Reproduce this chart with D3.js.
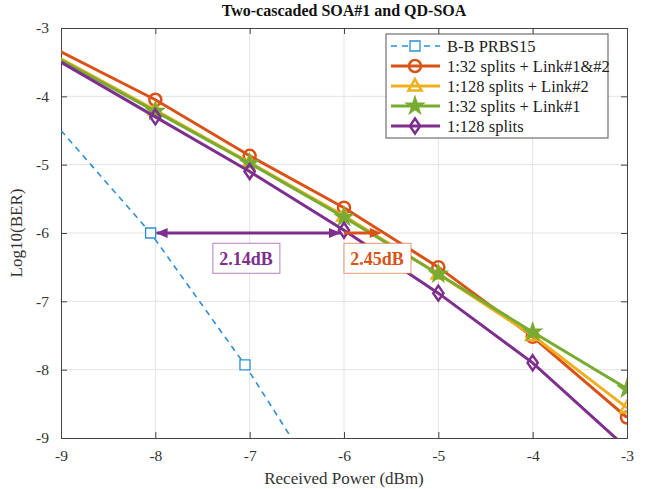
<!DOCTYPE html>
<html>
<head>
<meta charset="utf-8">
<script src="https://cdn.jsdelivr.net/npm/d3@7"></script>
<style>
  body { margin: 0; background: #fff; }
  text { font-family: "Liberation Serif", "Times New Roman", serif; }
</style>
</head>
<body>
<div id="chart"></div>
<script>
// data
const xTicks = [-9, -8, -7, -6, -5, -4, -3];
const yTicks = [-3, -4, -5, -6, -7, -8, -9];

const bbX = [-9, -8.05, -7.05, -6.05];
const bbY = [-4.5, -6.0, -7.93, -10.1];

const powerX = [-9, -8, -7, -6, -5, -4, -3];
const split32Link12 = [-3.35, -4.05, -4.87, -5.63, -6.5, -7.52, -8.7];
const split128Link2 = [-3.45, -4.2, -4.97, -5.75, -6.6, -7.5, -8.56];
const split32Link1 = [-3.47, -4.22, -4.98, -5.77, -6.6, -7.45, -8.28];
const split128 = [-3.5, -4.3, -5.1, -5.96, -6.88, -7.9, -9.15];

const seriesNames = ["B-B PRBS15", "1:32 splits + Link#1&#2", "1:128 splits + Link#2", "1:32 splits + Link#1", "1:128 splits"];
const seriesColors = ["#2b8fd8", "#D95319", "#EDB120", "#77AC30", "#7E2F8E"];
const seriesMarkers = ["square", "circle", "triangle", "star", "diamond"];

// penalty arrows at BER 1e-6
const arrowLevel = -6;
const arrowBB = -8.05, arrowPurple = -6.0, arrowOrange = -5.6;
const labels = [
  {text: "2.14dB", x: -7.04, y: -6.37, color: "#7E2F8E"},
  {text: "2.45dB", x: -5.65, y: -6.37, color: "#D95319"}
];

const margin = {top: 28, right: 22, bottom: 51, left: 61},
  width = 649 - margin.left - margin.right,
  height = 489 - margin.top - margin.bottom;

const svg = d3.select("#chart").append("svg")
  .attr("width", 649).attr("height", 489)
  .append("g")
  .attr("transform", `translate(${margin.left},${margin.top})`);

const x = d3.scaleLinear().domain([-9, -3]).range([0, width]);
const y = d3.scaleLinear().domain([-9, -3]).range([height, 0]);

// grid
svg.append("g").selectAll("line").data(xTicks.slice(1, -1)).join("line")
  .attr("x1", d => x(d)).attr("x2", d => x(d)).attr("y1", 0).attr("y2", height)
  .attr("stroke", "#e3e3e3");
svg.append("g").selectAll("line").data(yTicks.slice(1, -1)).join("line")
  .attr("y1", d => y(d)).attr("y2", d => y(d)).attr("x1", 0).attr("x2", width)
  .attr("stroke", "#e3e3e3");

// axes (ticks inward like MATLAB)
const fmt = d => d3.format("d")(d).replace("−", "-");
svg.append("g").attr("transform", `translate(0,${height})`)
  .call(d3.axisBottom(x).tickValues(xTicks).tickSize(-6).tickPadding(12).tickFormat(fmt));
svg.append("g")
  .call(d3.axisLeft(y).tickValues(yTicks).tickSize(-6).tickPadding(12).tickFormat(fmt));
svg.append("g").call(d3.axisTop(x).tickValues(xTicks).tickSize(-6).tickFormat(""));
svg.append("g").attr("transform", `translate(${width},0)`)
  .call(d3.axisRight(y).tickValues(yTicks).tickSize(-6).tickFormat(""));
svg.selectAll(".domain").attr("stroke", "#444");
svg.selectAll(".tick line").attr("stroke", "#444");
svg.selectAll(".tick text").attr("font-size", 15.5).attr("fill", "#333")
  .style("font-family", "'Liberation Serif', serif");

// clip
svg.append("clipPath").attr("id", "clip").append("rect")
  .attr("width", width).attr("height", height);
const plot = svg.append("g").attr("clip-path", "url(#clip)");

const series = [
  {xs: bbX, ys: bbY},
  {xs: powerX, ys: split32Link12},
  {xs: powerX, ys: split128Link2},
  {xs: powerX, ys: split32Link1},
  {xs: powerX, ys: split128}
];

const line = d3.line().x(d => x(d[0])).y(d => y(d[1]));

function markerPath(type, size) {
  const s = size;
  switch (type) {
    case "square": return `M${-s},${-s}H${s}V${s}H${-s}Z`;
    case "circle": return d3.symbol(d3.symbolCircle, Math.PI * s * s)();
    case "triangle": return `M0,${-s * 1.15}L${s * 1.1},${s * 0.75}L${-s * 1.1},${s * 0.75}Z`;
    case "diamond": return `M0,${-s * 1.25}L${s * 0.85},0L0,${s * 1.25}L${-s * 0.85},0Z`;
    case "star": return d3.symbol(d3.symbolStar, s * s * 1.7)();
  }
}

function drawMarker(g, type, color, cx, cy) {
  const isBB = type === "square";
  g.append("path")
    .attr("d", markerPath(type, isBB ? 5 : 6))
    .attr("transform", `translate(${cx},${cy})`)
    .attr("fill", type === "star" ? color : (isBB ? "#fff" : "none"))
    .attr("stroke", color)
    .attr("stroke-width", isBB ? 1.3 : 2.5);
}

// arrows (drawn under the lines)
const arrows = svg.append("g");
function arrowHead(xTip, dir, color) {
  const yy = y(arrowLevel);
  arrows.append("path")
    .attr("d", `M${xTip},${yy}L${xTip - dir * 12},${yy - 5}L${xTip - dir * 12},${yy + 5}Z`)
    .attr("fill", color);
}
arrows.append("line")
  .attr("x1", x(arrowBB) + 6).attr("x2", x(arrowPurple) - 4)
  .attr("y1", y(arrowLevel)).attr("y2", y(arrowLevel))
  .attr("stroke", seriesColors[4]).attr("stroke-width", 3);
arrowHead(x(arrowBB) + 5, -1, seriesColors[4]);
arrowHead(x(arrowPurple) - 3, 1, seriesColors[4]);
arrows.append("line")
  .attr("x1", x(arrowPurple)).attr("x2", x(arrowOrange) - 6)
  .attr("y1", y(arrowLevel)).attr("y2", y(arrowLevel))
  .attr("stroke", seriesColors[1]).attr("stroke-width", 3);
arrowHead(x(arrowOrange), 1, seriesColors[1]);

series.forEach((s, i) => {
  const pts = s.xs.map((v, j) => [v, s.ys[j]]);
  plot.append("path").datum(pts)
    .attr("d", line)
    .attr("fill", "none")
    .attr("stroke", seriesColors[i])
    .attr("stroke-width", i === 0 ? 1.6 : 3)
    .attr("stroke-dasharray", i === 0 ? "6,5" : null);
  const mg = plot.append("g");
  pts.filter(p => p[0] > -9 && p[1] >= -9)
    .forEach(p => drawMarker(mg, seriesMarkers[i], seriesColors[i], x(p[0]), y(p[1])));
});

// dB labels
labels.forEach(l => {
  const g = svg.append("g").attr("transform", `translate(${x(l.x)},${y(l.y)})`);
  g.append("rect").attr("x", -33).attr("y", -15).attr("width", 67).attr("height", 30)
    .attr("fill", "#fff").attr("stroke", l.color).attr("stroke-opacity", 0.6);
  g.append("text").attr("text-anchor", "middle").attr("dy", "0.35em")
    .attr("font-size", 18).attr("font-weight", "bold").attr("fill", l.color).text(l.text);
});

// legend
const lg = svg.append("g").attr("transform", `translate(${386 - margin.left},${34 - margin.top})`);
lg.append("rect").attr("width", 222).attr("height", 104)
  .attr("fill", "#fff").attr("stroke", "#555");
seriesNames.forEach((name, i) => {
  const row = lg.append("g").attr("transform", `translate(0,${12 + i * 20})`);
  row.append("line").attr("x1", 5).attr("x2", 54).attr("y1", 0).attr("y2", 0)
    .attr("stroke", seriesColors[i]).attr("stroke-width", i === 0 ? 1.6 : 3)
    .attr("stroke-dasharray", i === 0 ? "6,5" : null);
  drawMarker(row, seriesMarkers[i], seriesColors[i], 29, 0);
  row.append("text").attr("x", 61).attr("dy", "0.35em")
    .attr("font-size", 16.5).attr("fill", "#222").text(name);
});

// title and axis labels
svg.append("text").attr("x", width / 2).attr("y", -12).attr("text-anchor", "middle")
  .attr("font-size", 16).attr("font-weight", "bold").attr("fill", "#111")
  .text("Two-cascaded SOA#1 and QD-SOA");
svg.append("text").attr("x", width / 2).attr("y", height + 46).attr("text-anchor", "middle")
  .attr("font-size", 17).attr("fill", "#333").text("Received Power (dBm)");
svg.append("text").attr("transform", `translate(-39,${height / 2}) rotate(-90)`)
  .attr("text-anchor", "middle").attr("font-size", 17).attr("fill", "#333").text("Log10(BER)");
</script>
</body>
</html>
